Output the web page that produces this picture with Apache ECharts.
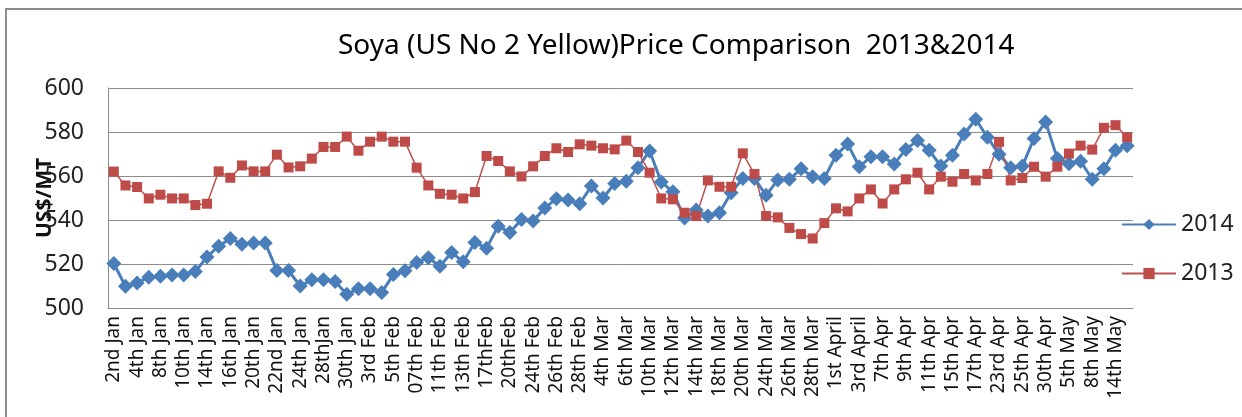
<!DOCTYPE html>
<html>
<head>
<meta charset="utf-8">
<script src="https://cdn.jsdelivr.net/npm/echarts@6/dist/echarts.min.js"></script>
<style>
  html, body { margin: 0; padding: 0; background: #fff; }
  #chart { width: 1242px; height: 417px; }
</style>
</head>
<body>
<div id="chart"></div>
<script>
// ── data ────────────────────────────────────────────────
const dates = [
  '2nd Jan', '3rd Jan', '4th Jan', '7th Jan', '8th Jan', '9th Jan', '10th Jan', '13th Jan',
  '14th Jan', '15th Jan', '16th Jan', '17th Jan', '20th Jan', '21st Jan', '22nd Jan', '23rd Jan',
  '24th Jan', '27th Jan', '28thJan', '29th Jan', '30th Jan', '31st Jan', '3rd Feb', '4th Feb',
  '5th Feb', '6th Feb', '07th Feb', '10th Feb', '11th Feb', '12th Feb', '13th Feb', '14th Feb',
  '17thFeb', '18th Feb', '20thFeb', '21st Feb', '24th Feb', '25th Feb', '26th Feb', '27th Feb',
  '28th Feb', '3rd Mar', '4th Mar', '5th Mar', '6th Mar', '7th Mar', '10th Mar', '11th Mar',
  '12th Mar', '13th Mar', '14th Mar', '17th Mar', '18th Mar', '19th Mar', '20th Mar', '21st Mar',
  '24th Mar', '25th Mar', '26th Mar', '27th Mar', '28th Mar', '31st Mar', '1st April', '2nd April',
  '3rd April', '4th April', '7th Apr', '8th Apr', '9th Apr', '10th Apr', '11th Apr', '14th Apr',
  '15th Apr', '16th Apr', '17th Apr', '22nd Apr', '23rd Apr', '24th Apr', '25th Apr', '28th Apr',
  '30th Apr', '2nd May', '5th May', '6th May', '8th May', '9th May', '14th May', '15th May'
]

const price2014 = [
  520.2, 509.9, 511.4, 514.0, 514.4, 515.0, 515.0, 516.6, 523.2, 528.1, 531.6, 529.0,
  529.6, 529.6, 517.0, 517.0, 510.0, 512.8, 512.8, 512.1, 506.2, 508.8, 508.8,
  507.1, 515.2, 516.9, 520.7, 522.8, 519.0, 525.2, 521.0, 529.8, 527.2, 537.2, 534.3,
  540.2, 539.6, 545.4, 549.7, 549.1, 547.4, 555.4, 550.0, 556.6,
  557.6, 563.8, 571.4, 557.3, 552.8, 540.9, 544.5, 541.8, 543.3, 552.4, 558.9, 558.9,
  551.2, 558.2, 558.5, 563.3, 559.7, 558.9, 569.4, 574.6, 564.2, 568.8, 568.8,
  565.5, 572.1, 576.1, 571.7, 564.5, 569.4, 579.1, 585.8, 577.6, 569.9, 563.8, 564.5,
  577.1, 584.6, 567.9, 565.6, 566.7, 558.5, 563.3, 571.7, 573.7
]

const price2013 = [
  562.0, 555.7, 555.0, 549.8, 551.5, 549.8, 549.8, 546.8, 547.4, 562.1, 559.2, 564.8,
  562.1, 562.1, 569.7, 563.9, 564.4, 567.9, 573.2, 573.2, 577.9, 571.5, 575.6,
  577.9, 575.6, 575.6, 563.8, 555.7, 551.9, 551.5, 549.8, 552.7, 569.1, 566.8, 562.1,
  559.8, 564.4, 569.1, 572.6, 570.9, 574.4, 573.8, 572.6, 572.1,
  576.1, 570.9, 561.5, 549.8, 549.4, 543.3, 541.8, 558.0, 555.1, 555.1, 570.3, 560.9,
  541.8, 541.2, 536.4, 533.6, 531.6, 538.6, 545.3, 543.9, 549.8, 553.9, 547.5,
  553.9, 558.5, 561.5, 553.9, 559.7, 557.4, 560.9, 558.0, 560.9, 575.5, 558.0, 559.1,
  564.2, 559.7, 564.2, 570.2, 573.8, 572.0, 581.9, 583.1, 577.6
]

const yTicks = { min: 500, max: 600, step: 20 }

// ── chart ───────────────────────────────────────────────
const FONT = '"Noto Sans", "DejaVu Sans", sans-serif'
const chart = echarts.init(document.getElementById('chart'))

chart.setOption({
  backgroundColor: '#fff',
  animation: false,
  title: {
    text: 'Soya (US No 2 Yellow)Price Comparison  2013&2014',
    left: 333,
    top: 27,
    textStyle: { fontFamily: FONT, fontSize: 28, fontWeight: 'normal', color: '#000' },
  },
  graphic: [{
    type: 'rect',
    silent: true,
    shape: { x: 6, y: 9, width: 1400, height: 600 },
    style: { fill: 'none', stroke: '#8c8c8c', lineWidth: 2 },
  }],
  legend: {
    orient: 'vertical',
    left: 1116,
    top: 208,
    itemWidth: 54,
    itemHeight: 14,
    itemGap: 26,
    textStyle: { fontFamily: FONT, fontSize: 23, color: '#222' },
    data: ['2014', '2013'],
  },
  grid: { left: 108, right: 109, top: 88, bottom: 109 },
  xAxis: {
    type: 'category',
    data: dates,
    boundaryGap: true,
    axisLine: { lineStyle: { color: '#8c8c8c', width: 1 } },
    axisTick: { show: false },
    axisLabel: {
      interval: 1,
      rotate: 90,
      margin: 8,
      fontFamily: FONT,
      fontSize: 19,
      color: '#111',
    },
    splitLine: { show: false },
  },
  yAxis: {
    type: 'value',
    min: yTicks.min,
    max: yTicks.max,
    interval: yTicks.step,
    name: 'US$/MT',
    nameLocation: 'middle',
    nameGap: 52,
    nameMoveOverlap: false,
    nameTextStyle: { fontFamily: FONT, fontSize: 21, fontWeight: 'bold', color: '#111' },
    axisLine: { show: true, lineStyle: { color: '#8c8c8c', width: 1 } },
    axisTick: { show: false },
    axisLabel: { margin: 24, fontFamily: FONT, fontSize: 23, color: '#222' },
    splitLine: { lineStyle: { color: '#8c8c8c', width: 1 } },
  },
  series: [
    {
      name: '2014',
      type: 'line',
      data: price2014,
      symbol: 'diamond',
      symbolSize: 15,
      showAllSymbol: true,
      lineStyle: { color: '#4a7ebb', width: 3 },
      itemStyle: { color: '#4a7ebb' },
    },
    {
      name: '2013',
      type: 'line',
      data: price2013,
      symbol: 'rect',
      symbolSize: 10,
      showAllSymbol: true,
      lineStyle: { color: '#c0504d', width: 1.5 },
      itemStyle: { color: '#be4b48' },
    },
  ],
})
</script>
</body>
</html>
